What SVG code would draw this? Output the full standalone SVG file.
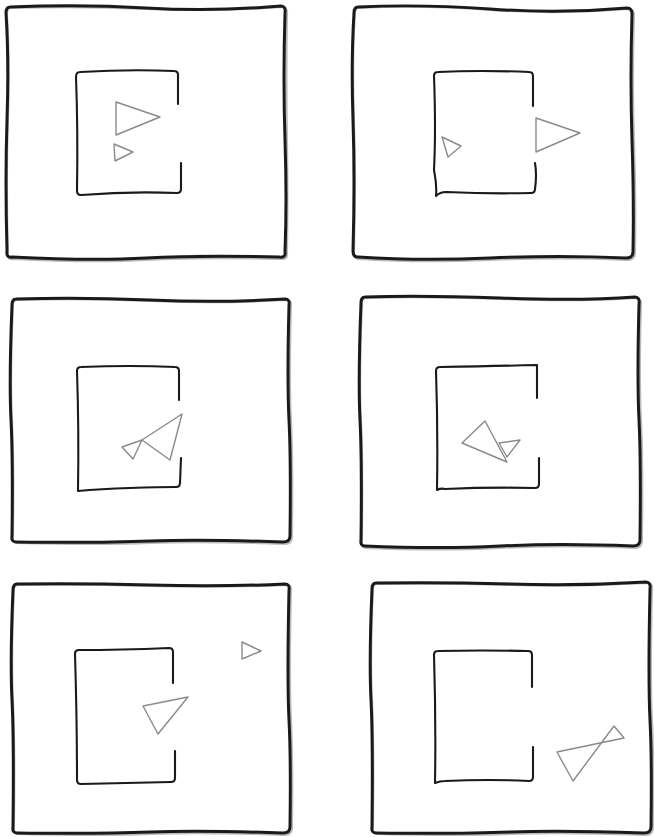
<svg xmlns="http://www.w3.org/2000/svg" width="654" height="837" viewBox="0 0 654 837">
<style>
.bg{fill:#ffffff}
.outer{fill:none;stroke:#1a1a1a;stroke-width:3;stroke-linecap:round;stroke-linejoin:round}
.outer2{fill:none;stroke:#8c8c8c;stroke-width:2;stroke-linecap:round;stroke-linejoin:round;opacity:0.6}
.inner{fill:none;stroke:#1a1a1a;stroke-width:2.1;stroke-linecap:round;stroke-linejoin:round}
.tri{fill:none;stroke:#8a8a8a;stroke-width:1.4;stroke-linejoin:round}
</style>
<rect class="bg" x="0" y="0" width="654" height="837"/>

<g id="panel1">
<path class="outer2" d="M 11 8 Q 80 6 146 9 T 282 7 Q 288 8 287 14 Q 286 80 287 140 T 287 253 Q 288 260 281 259 Q 200 257 146 260 T 13 259 Q 7 260 8 253 Q 6 180 8 120 T 7 14 Q 7 8 11 8 Z"/>
<path class="outer" d="M 10 7 Q 80 4 146 8 T 281 6 Q 286 6 285 13 Q 283 80 285 140 T 285 252 Q 286 258 279 257 Q 200 255 146 258 T 12 257 Q 6 258 7 251 Q 5 180 7 120 T 6 13 Q 6 7 10 7 Z"/>
<path class="inner" d="M 178 104 L 178 75 Q 178 71 174 71 Q 130 69 80 72 Q 76 72 76 77 Q 78 130 77 191 Q 77 195 81 195 Q 130 191 177 193 Q 181 193 181 189 L 181 163"/>
<polygon class="tri" points="116,102 160,117 116,135"/>
<polygon class="tri" points="114,144 133,152 115,161"/>
</g>

<g id="panel2">
<path class="outer2" d="M 359 8 Q 420 5 490 10 T 628 9 Q 634 9 634 15 Q 632 80 634 140 T 635 253 Q 635 260 628 260 Q 560 257 490 260 T 359 259 Q 354 259 354 253 Q 356 180 354 120 T 355 14 Q 355 8 359 8 Z"/>
<path class="outer" d="M 358 7 Q 420 4 490 9 T 627 8 Q 632 8 632 14 Q 630 80 632 140 T 633 252 Q 633 258 626 258 Q 560 255 490 258 T 358 257 Q 353 257 353 251 Q 355 180 353 120 T 354 13 Q 354 7 358 7 Z"/>
<path class="inner" d="M 533 106 L 533 76 Q 533 72 529 72 Q 480 70 438 72 Q 434 72 434 76 Q 436 130 434 170 Q 437 185 436 196 Q 440 192 446 192 Q 490 194 531 193 Q 535 193 535 189 Q 537 175 535 163"/>
<polygon class="tri" points="442,137 461,146 448,157"/>
<polygon class="tri" points="536,118 580,133 536,152"/>
</g>

<g id="panel3">
<path class="outer2" d="M 17 300 Q 80 298 150 301 T 286 300 Q 292 300 291 306 Q 289 380 291 420 T 292 537 Q 292 544 285 544 Q 200 541 150 543 T 17 543 Q 12 543 13 537 Q 14 460 12 420 T 13 306 Q 13 300 17 300 Z"/>
<path class="outer" d="M 16 299 Q 80 297 150 300 T 285 299 Q 290 299 289 305 Q 287 380 289 420 T 290 536 Q 290 542 283 542 Q 200 539 150 541 T 16 542 Q 11 542 12 536 Q 13 460 11 420 T 12 305 Q 12 299 16 299 Z"/>
<path class="inner" d="M 179 400 L 179 371 Q 179 367 175 367 Q 130 365 81 367 Q 77 367 77 371 Q 79 430 78 491 Q 100 489 130 488 Q 160 487 176 487 Q 180 487 180 483 L 181 458"/>
<polygon class="tri" points="182,414 142,440 170,460"/>
<polygon class="tri" points="122,447 142,440 133,459"/>
</g>

<g id="panel4">
<path class="outer2" d="M 366 298 Q 420 296 500 299 T 636 298 Q 642 299 641 305 Q 639 380 641 420 T 642 541 Q 642 548 635 548 Q 560 545 500 548 T 366 548 Q 361 548 362 542 Q 363 460 361 420 T 362 304 Q 362 298 366 298 Z"/>
<path class="outer" d="M 365 297 Q 420 295 500 298 T 635 297 Q 640 297 639 304 Q 637 380 639 420 T 640 540 Q 640 546 633 546 Q 560 543 500 546 T 365 546 Q 360 546 361 540 Q 362 460 360 420 T 361 303 Q 361 297 365 297 Z"/>
<path class="inner" d="M 537 398 L 537 365 Q 500 366 440 367 Q 436 367 436 371 Q 438 430 437 490 Q 441 488 445 489 Q 490 487 535 488 Q 539 488 539 484 L 539 458"/>
<polygon class="tri" points="485,421 462,443 507,462"/>
<polygon class="tri" points="499,443 520,440 507,457"/>
</g>

<g id="panel5">
<path class="outer2" d="M 18 585 Q 80 584 150 586 T 286 585 Q 292 585 291 591 Q 289 680 291 720 T 292 828 Q 292 835 285 835 Q 200 832 150 834 T 18 834 Q 13 834 14 828 Q 15 740 13 700 T 14 591 Q 14 585 18 585 Z"/>
<path class="outer" d="M 17 584 Q 80 583 150 585 T 285 584 Q 290 584 289 590 Q 287 680 289 720 T 290 827 Q 290 833 283 833 Q 200 830 150 832 T 17 833 Q 12 833 13 827 Q 14 740 12 700 T 13 590 Q 13 584 17 584 Z"/>
<path class="inner" d="M 173 683 L 173 652 Q 173 648 169 648 Q 120 650 79 650 Q 75 650 75 654 Q 77 720 77 780 Q 77 784 81 784 Q 130 783 171 782 Q 175 782 175 778 L 175 751"/>
<polygon class="tri" points="242,642 261,651 242,659"/>
<polygon class="tri" points="143,706 188,697 158,734"/>
</g>

<g id="panel6">
<path class="outer2" d="M 377 584 Q 440 583 510 585 T 647 583 Q 653 583 652 590 Q 650 680 652 720 T 653 828 Q 653 835 646 835 Q 560 832 510 834 T 377 834 Q 372 834 373 828 Q 374 740 372 700 T 373 590 Q 373 584 377 584 Z"/>
<path class="outer" d="M 376 583 Q 440 582 510 584 T 646 582 Q 651 582 650 589 Q 648 680 650 720 T 651 827 Q 651 833 644 833 Q 560 830 510 832 T 376 833 Q 371 833 372 827 Q 373 740 371 700 T 372 589 Q 372 583 376 583 Z"/>
<path class="inner" d="M 532 687 L 532 655 Q 532 651 528 651 Q 480 650 438 651 Q 434 651 434 655 Q 436 720 435 783 Q 440 781 445 781 Q 490 779 529 781 Q 533 781 533 777 L 533 747"/>
<polygon class="tri" points="557,752 624,738 614,726 573,781"/>
</g>
</svg>
